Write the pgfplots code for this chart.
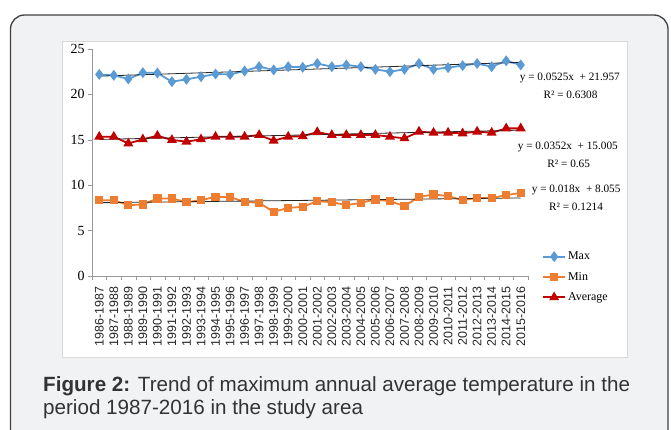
\documentclass[border=0pt]{standalone}
\usepackage{pgfplots}
\pgfplotsset{compat=1.18}
\usepackage{pgfplotstable}
\usepackage{fontspec}
\setmainfont{Liberation Serif}
\setsansfont{Liberation Sans}
\definecolor{maxc}{RGB}{91,155,213}
\definecolor{minc}{RGB}{237,125,49}
\definecolor{avgc}{RGB}{192,0,0}
\definecolor{bgc}{RGB}{241,242,244}
\definecolor{capc}{RGB}{51,51,51}

\pgfplotstableread{
x max min avg
0 22.20 8.35 15.34
1 22.10 8.35 15.34
2 21.70 7.80 14.60
3 22.40 7.88 15.05
4 22.36 8.54 15.45
5 21.40 8.54 14.98
6 21.66 8.13 14.80
7 21.95 8.35 15.05
8 22.25 8.72 15.34
9 22.20 8.70 15.34
10 22.58 8.17 15.34
11 23.05 8.06 15.53
12 22.70 7.07 14.90
13 23.05 7.50 15.34
14 22.98 7.62 15.40
15 23.40 8.24 15.85
16 23.05 8.13 15.53
17 23.24 7.80 15.53
18 23.05 8.06 15.53
19 22.76 8.43 15.53
20 22.50 8.24 15.34
21 22.76 7.70 15.16
22 23.40 8.72 15.90
23 22.76 8.98 15.78
24 22.95 8.80 15.78
25 23.17 8.35 15.71
26 23.40 8.60 15.90
27 23.05 8.60 15.78
28 23.70 8.90 16.26
29 23.24 9.16 16.26
}\data

\begin{document}
\begin{tikzpicture}
\useasboundingbox (0bp,0bp) rectangle (671bp,430bp);
\begin{scope}[x=1bp,y=1bp]
\fill[bgc, draw=black!75, line width=1.3bp, rounded corners=14bp] (10.5,415) rectangle (668,-20);
\draw[fill=white, draw=black!15, line width=1bp] (62,72) rectangle (627,388.5);
\end{scope}
\begin{axis}[
 at={(92bp,154bp)}, anchor=south west,
 scale only axis, width=436bp, height=227bp,
 xmin=-0.5, xmax=29.5, ymin=0, ymax=25,
 axis lines=left, axis line style={-, draw=black!40},
 tick align=outside,
 major tick length=4bp, minor tick length=4bp,
 xtick={0,...,29},
 minor xtick={-0.5,0.5,...,29.5},
 major x tick style={draw=none},
 minor x tick style={draw=black!40},
 ytick={0,5,...,25},
 y tick style={draw=black!40},
 xticklabels={1986-1987,1987-1988,1988-1989,1989-1990,1990-1991,1991-1992,1992-1993,1993-1994,1994-1995,1995-1996,1996-1997,1997-1998,1998-1999,1999-2000,2000-2001,2001-2002,2002-2003,2003-2004,2004-2005,2005-2006,2006-2007,2007-2008,2008-2009,2009-2010,2010-2011,2011-2012,2012-2013,2013-2014,2014-2015,2015-2016},
 xticklabel style={rotate=90, anchor=east, font=\sffamily\fontsize{12.5}{13}\selectfont, text=black!85},
 xticklabel shift=3bp,
 yticklabel style={font=\rmfamily\fontsize{14}{14}\selectfont},
 /pgf/number format/assume math mode=true,
 legend style={at={(axis description cs:1.03,0.12)}, anchor=north west, draw=none, fill=none,
   font=\fontsize{12}{12}\selectfont, row sep=7bp, inner sep=1bp},
 legend cell align=left,
 legend image code/.code={\draw[mark repeat=2,mark phase=2] plot coordinates {(0bp,0bp)(11bp,0bp)(22bp,0bp)};},
 clip=false,
]
\addplot[color=maxc, line width=1.8bp, mark=diamond*, mark size=4bp] table[x=x,y=max]{\data};
\addlegendentry{Max}
\addplot[color=minc, line width=1.8bp, mark=square*, mark size=3.2bp] table[x=x,y=min]{\data};
\addlegendentry{Min}
\addplot[color=avgc, line width=1.8bp, mark=triangle*, mark size=4bp] table[x=x,y=avg]{\data};
\addlegendentry{Average}
\addplot[black!85, line width=0.8bp, forget plot] coordinates {(0,22.0095) (29,23.532)};
\addplot[black!85, line width=0.8bp, forget plot] coordinates {(0,15.0402) (29,16.061)};
\addplot[black!85, line width=0.8bp, forget plot] coordinates {(0,8.073) (29,8.595)};
\end{axis}
\begin{scope}[x=1bp,y=1bp, every node/.style={inner sep=0pt, font=\fontsize{11.3}{12}\selectfont}]
\node[anchor=east] at (620,352) {y = 0.0525x\ \ + 21.957};
\node at (570.5,335) {R² = 0.6308};
\node[anchor=east] at (618,282.7) {y = 0.0352x\ \ + 15.005};
\node at (568.7,266) {R² = 0.65};
\node[anchor=east] at (620.7,240) {y = 0.018x\ \ + 8.055};
\node at (576,223.3) {R² = 0.1214};
\end{scope}
\begin{scope}[x=1bp,y=1bp, every node/.style={inner sep=0pt, anchor=base west, text=capc, font=\sffamily\fontsize{20.7}{23}\selectfont}]
\node at (43,39) {\textbf{Figure 2:} Trend of maximum annual average temperature in the};
\node at (43,16) {period 1987-2016 in the study area};
\end{scope}
\end{tikzpicture}
\end{document}
